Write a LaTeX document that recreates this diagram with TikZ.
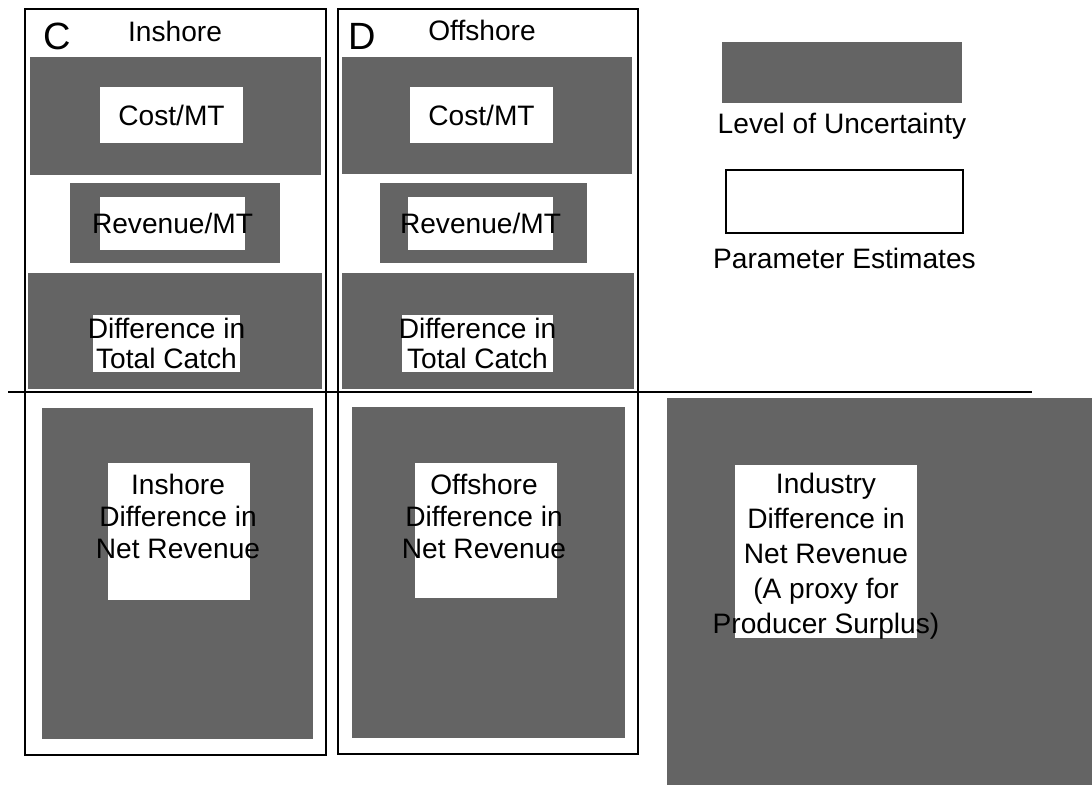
\documentclass[tikz,border=0pt]{standalone}
\usepackage{fontspec}
\setmainfont{Liberation Sans}
\usetikzlibrary{positioning,fit}
\definecolor{halftone}{RGB}{100,100,100}

\begin{document}
\begin{tikzpicture}[x=0.025cm, y=-0.025cm,
    every node/.style={font=\fontsize{20}{23}\selectfont, inner sep=0pt, align=center},
    greybox/.style={fill=halftone, draw=none},
    whitebox/.style={fill=white, draw=none},
    panel/.style={draw, line width=2.1pt},
    letter/.style={font=\fontsize{27}{30}\selectfont}]
  \useasboundingbox (0,0) rectangle (1092,785);

  \node[panel, fit={(25,9) (326,755)}] (inpanel) {};
  \node[letter] (inletter) at (57,36) {C};
  \node (intitle) at (175,31) {Inshore};
  \node[greybox, fit={(30,57) (321,175)}] (incostbg) {};
  \node[whitebox, fit={(100,87) (243,143)}] (incost) {};
  \node at (incost) {Cost/MT};
  \node[greybox, fit={(70,183) (280,263)}] (inrevbg) {};
  \node[whitebox, fit={(100,197) (245,250)}] (inrev) {};
  \node at (inrev) {Revenue/MT};
  \node[greybox, fit={(28,273) (322,389)}] (incatchbg) {};
  \node[whitebox, fit={(93,315) (240,372)}] (incatch) {};
  \node[font=\fontsize{20}{21.4}\selectfont] at (incatch) {Difference in\\Total Catch};
  \node[greybox, fit={(42,408) (313,739)}] (innetbg) {};
  \node[whitebox, fit={(108,463) (250,600)}] (innet) {};
  \node[font=\fontsize{20}{22.8}\selectfont] (innettext) at (178,516)
    {Inshore\\Difference in\\Net Revenue};

  \node[panel, fit={(338,9) (638,754)}] (offpanel) {};
  \node[letter] (offletter) at (362,36) {D};
  \node (offtitle) at (482,30) {Offshore};
  \node[greybox, fit={(342,57) (632,174)}] (offcostbg) {};
  \node[whitebox, fit={(410,87) (553,143)}] (offcost) {};
  \node at (offcost) {Cost/MT};
  \node[greybox, fit={(380,183) (587,263)}] (offrevbg) {};
  \node[whitebox, fit={(408,197) (553,250)}] (offrev) {};
  \node at (offrev) {Revenue/MT};
  \node[greybox, fit={(342,273) (634,389)}] (offcatchbg) {};
  \node[whitebox, fit={(402,315) (553,372)}] (offcatch) {};
  \node[font=\fontsize{20}{21.4}\selectfont] at (offcatch) {Difference in\\Total Catch};
  \node[greybox, fit={(352,407) (625,738)}] (offnetbg) {};
  \node[whitebox, fit={(415,463) (557,598)}] (offnet) {};
  \node[font=\fontsize{20}{22.8}\selectfont] (offnettext) at (484,516)
    {Offshore\\Difference in\\Net Revenue};

  \draw[line width=2.1pt] (8,392) -- (1032,392);

  \node[greybox, fit={(722,42) (962,103)}] (uncert) {};
  \node[below=0.25cm of uncert] (uncertlabel) {Level of Uncertainty};
  \node[draw, line width=1.7pt, fit={(726,170) (963,233)}] (estim) {};
  \node[below=0.33cm of estim] (estimlabel) {Parameter Estimates};

  \node[greybox, fit={(667,398) (1092,785)}] (industrybg) {};
  \node[whitebox, fit={(735,465) (917,638)}] (industry) {};
  \node[font=\fontsize{20}{24.9}\selectfont] (industrytext) at (826,556)
    {Industry\\Difference in\\Net Revenue\\(A proxy for\\Producer Surplus)};
\end{tikzpicture}
\end{document}
